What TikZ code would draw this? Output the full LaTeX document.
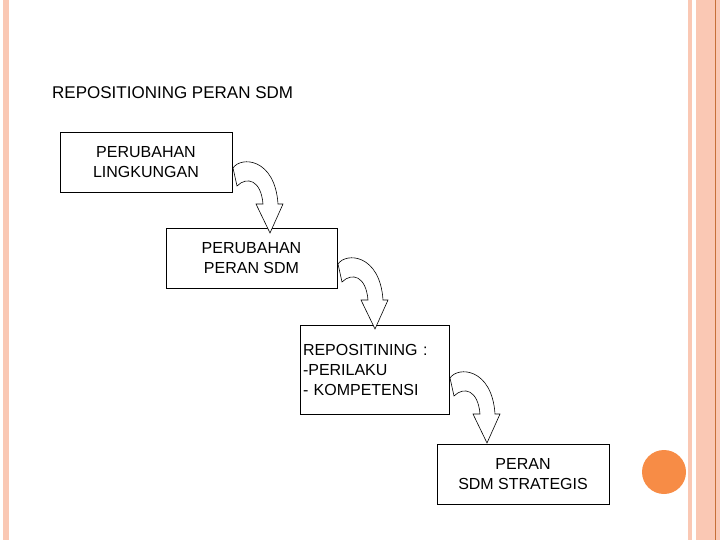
\documentclass[tikz,border=0pt]{standalone}
\usepackage{fontspec}
\setmainfont{Liberation Sans}
\definecolor{stripe}{RGB}{250,200,180}
\definecolor{dot}{RGB}{247,140,70}
\tikzset{
  box/.style={draw,thick,fill=white,inner sep=2pt,font=\fontsize{16}{20}\selectfont,align=center},
  turnarrow/.style={draw,fill=white,line width=0.6pt}
}
\newcommand{\bentarrow}[1]{%
  \draw[turnarrow,shift={(#1)}] (0,0) .. controls (8,-12) and (42,-10) .. (45,36)
    -- (50,36) -- (37,65) -- (23,36) -- (30,36)
    .. controls (28,12) and (14,8) .. (4,18) -- cycle;}
\begin{document}
\begin{tikzpicture}[x=1pt,y=-1pt]
  \useasboundingbox (0,0) rectangle (720,540);
  % frame stripes
  \fill[stripe] (3,0) rectangle (9,540);
  \fill[stripe] (688,0) rectangle (692,540);
  \fill[stripe] (696,0) rectangle (720,540);
  \draw[dot!80!black,line width=0.5pt] (715,0) -- (715,540);
  \fill[dot] (664,472) circle (22);
  \node[anchor=west,inner sep=0,font=\fontsize{17}{20}\selectfont] (title) at (52,93) {REPOSITIONING PERAN SDM};
  \node[box,minimum width=172,minimum height=60] (n0) at (146,162) {PERUBAHAN\\LINGKUNGAN};
  \node[box,minimum width=171,minimum height=60] (n1) at (251.5,258) {PERUBAHAN\\PERAN SDM};
  \node[box,minimum width=149,minimum height=89,align=left,text width=143] (n2) at (374.5,369.5) {REPOSITINING :\\-PERILAKU\\- KOMPETENSI};
  \node[box,minimum width=172,minimum height=60] (n3) at (523,474) {PERAN\\SDM STRATEGIS};
  \bentarrow{233,168}
  \bentarrow{338,264}
  \bentarrow{450,378}
\end{tikzpicture}
\end{document}
